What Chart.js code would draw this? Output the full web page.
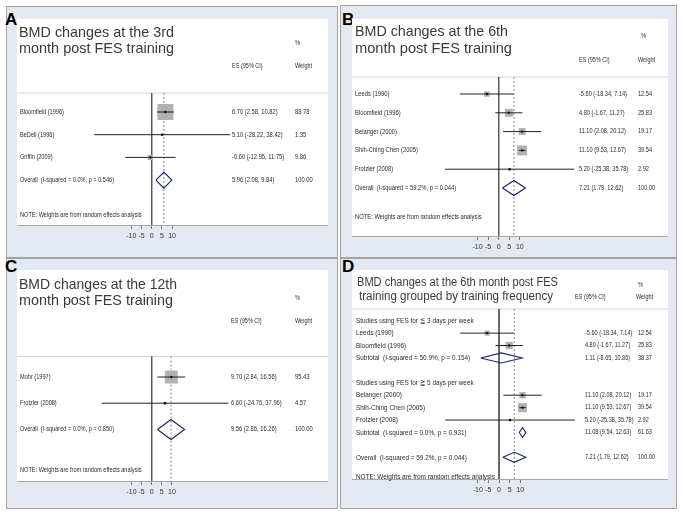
<!DOCTYPE html>
<html>
<head>
<meta charset="utf-8">
<script src="https://cdn.jsdelivr.net/npm/chart.js@4.4.0/dist/chart.umd.min.js"></script>
<style>
  body { margin: 0; background: #fff; width: 683px; height: 516px; position: relative; overflow: hidden; }
  .panel { position: absolute; background: #e4e8f1; border: 1px solid #a3a3a3; box-sizing: border-box; }
  .letter { position: absolute; font: bold 17px 'Liberation Sans', Arial, sans-serif; line-height: 17px; color: #000; }
  canvas { position: absolute; }
</style>
</head>
<body>
<div class="panel" style="left:6px;top:6px;width:332px;height:252px"></div>
<div class="panel" style="left:340px;top:5px;width:337px;height:253px"></div>
<div class="panel" style="left:6px;top:258px;width:332px;height:251px"></div>
<div class="panel" style="left:340px;top:258px;width:337px;height:251px"></div>
<div class="letter" style="left:5px;top:11px">A</div>
<div class="letter" style="left:342px;top:11px">B</div>
<div class="letter" style="left:5px;top:258px">C</div>
<div class="letter" style="left:342px;top:258px">D</div>
<script>
const FONT = "'Liberation Sans', Arial, sans-serif";
const tickVals = [-10, -5, 0, 5, 10];
const noteText = 'NOTE: Weights are from random effects analysis';

// A: 3-й месяц
const studyA = ['Bloomfield (1996)', 'BeDell (1996)', 'Griffin (2009)'];
const esA = [6.70, 5.10, -0.60];
const loA = [2.58, -28.22, -12.95];
const hiA = [10.82, 38.42, 11.75];
const wA = [88.78, 1.35, 9.86];
const overallA = [5.96, 2.08, 9.84, 100.00];
const hetA = 'I-squared = 0.0%, p = 0.546';

// B: 6-й месяц
const studyB = ['Leeds (1990)', 'Bloomfield (1996)', 'Belanger (2000)', 'Shih-Ching Chen (2005)', 'Frotzler (2008)'];
const esB = [-5.60, 4.80, 11.10, 11.10, 5.20];
const loB = [-18.34, -1.67, 2.08, 9.53, -25.38];
const hiB = [7.14, 11.27, 20.12, 12.67, 35.78];
const wB = [12.54, 25.83, 19.17, 39.54, 2.92];
const overallB = [7.21, 1.79, 12.62, 100.00];
const hetB = 'I-squared = 59.2%, p = 0.044';

// C: 12-й месяц
const studyC = ['Mohr (1997)', 'Frotzler (2008)'];
const esC = [9.70, 6.60];
const loC = [2.84, -24.76];
const hiC = [16.56, 37.96];
const wC = [95.43, 4.57];
const overallC = [9.56, 2.86, 16.26, 100.00];
const hetC = 'I-squared = 0.0%, p = 0.850';

// D: 6-й месяц по частоте тренировок
const groupLabelD = ['Studies using FES for \u2266 3 days per week', 'Studies using FES for \u2267 5 days per week'];
const studyD = ['Leeds (1990)', 'Bloomfield (1996)', 'Belanger (2000)', 'Shih-Ching Chen (2005)', 'Frotzler (2008)'];
const groupD = [0, 0, 1, 1, 1];
const esD = [-5.60, 4.80, 11.10, 11.10, 5.20];
const loD = [-18.34, -1.67, 2.08, 9.53, -25.38];
const hiD = [7.14, 11.27, 20.12, 12.67, 35.78];
const wD = [12.54, 25.83, 19.17, 39.54, 2.92];
const subD = [[1.11, -8.65, 10.86, 38.37], [11.08, 9.54, 12.63, 61.63]];
const subHetD = ['I-squared = 50.9%, p = 0.154', 'I-squared = 0.0%, p = 0.931'];
const overallD = [7.21, 1.79, 12.62, 100.00];
const hetD = 'I-squared = 59.2%, p = 0.044';

// Строки графика: исследования, подытоги, итог, примечание
function buildRows(p) {
    const rows = [];
    let r = 1;
    const study = i => ({ kind: 'study', label: p.study[i], es: p.es[i], lo: p.lo[i], hi: p.hi[i], w: p.w[i] });
    if (p.groups) {
        p.groups.forEach((g, gi) => {
            rows.push({ kind: 'head', label: g, r: r++ });
            p.study.forEach((s, i) => {
                if (p.group[i] === gi) rows.push({ ...study(i), r: r++ });
            });
            const sb = p.sub[gi];
            rows.push({ kind: 'diamond', label: 'Subtotal  (' + p.subHet[gi] + ')', es: sb[0], lo: sb[1], hi: sb[2], w: sb[3], r: r++ });
            r++;
        });
    } else {
        p.study.forEach((s, i) => rows.push({ ...study(i), r: r++ }));
    }
    const ov = p.overall;
    rows.push({ kind: 'diamond', label: 'Overall  (' + p.het + ')', es: ov[0], lo: ov[1], hi: ov[2], w: ov[3], r: r });
    rows.push({ kind: 'note', label: noteText, r: r + 1.55 });
    return rows;
}

function txt(ctx, s, x, y, size, opt) {
    opt = opt || {};
    ctx.save();
    ctx.font = size + 'px ' + FONT;
    ctx.fillStyle = opt.color || '#2b2b2b';
    ctx.textBaseline = opt.baseline || 'middle';
    ctx.textAlign = opt.align || 'left';
    let sx = opt.sx || 0.85;
    if (opt.width) sx = opt.width / ctx.measureText(s).width;
    ctx.translate(x, y);
    ctx.scale(sx, 1);
    ctx.fillText(s, 0, 0);
    ctx.restore();
}

function makePanel(p, L) {
    const rows = buildRows(p);
    const W = L.white.r - L.white.l;
    const H = L.white.b - L.white.t;
    const cv = document.createElement('canvas');
    cv.width = W;
    cv.height = H + L.axisH;
    cv.style.left = L.white.l + 'px';
    cv.style.top = L.white.t + 'px';
    cv.style.width = W + 'px';
    cv.style.height = (H + L.axisH) + 'px';
    document.body.appendChild(cv);

    const xMin = (L.white.l - L.zero) / L.ppu;
    const xMax = (L.white.r - L.zero) / L.ppu;
    const yMin = 1 - (L.row1 - L.white.t) / L.rowH;
    const yMax = 1 + (L.white.b - L.row1) / L.rowH;
    const topRow = 1 + (L.hdrY - L.row1) / L.rowH;
    const ov = p.overall;

    const line = (pts, color, width, order, dash) => ({
        data: pts, showLine: true, borderColor: color, borderWidth: width,
        borderDash: dash || [], pointRadius: 0, order: order
    });

    const datasets = [];
    datasets.push(line([{ x: xMin, y: topRow }, { x: xMax, y: topRow }], '#d4d4d4', 1, 12));
    datasets.push(line([{ x: 0, y: topRow }, { x: 0, y: yMax }], '#555', 1, 11));
    datasets.push(line([{ x: ov[0], y: topRow }, { x: ov[0], y: yMax }], '#8a8a8a', 1, 11, [2, 2]));

    const studies = rows.filter(r => r.kind === 'study');
    datasets.push({
        data: studies.map(s => ({ x: s.es, y: s.r })),
        pointStyle: 'rect',
        pointRadius: studies.map(s => L.boxK * Math.sqrt(s.w) / Math.SQRT2),
        pointBackgroundColor: '#b2b2b2', pointBorderWidth: 0, order: 10
    });
    studies.forEach(s => datasets.push(line([{ x: s.lo, y: s.r }, { x: s.hi, y: s.r }], '#222', 1, 9)));
    datasets.push({
        data: studies.map(s => ({ x: s.es, y: s.r })),
        pointStyle: 'circle', pointRadius: 1.2,
        pointBackgroundColor: '#111', pointBorderWidth: 0, order: 8
    });

    const dh = L.diaPx / L.rowH;
    rows.filter(r => r.kind === 'diamond').forEach(d => {
        datasets.push(line([
            { x: d.lo, y: d.r }, { x: d.es, y: d.r - dh }, { x: d.hi, y: d.r },
            { x: d.es, y: d.r + dh }, { x: d.lo, y: d.r }
        ], '#1d2870', 1.2, 7));
    });

    const textPlugin = {
        id: 'forestText',
        beforeDraw(chart) {
            const a = chart.chartArea;
            chart.ctx.save();
            chart.ctx.fillStyle = '#fff';
            chart.ctx.fillRect(a.left, a.top, a.right - a.left, a.bottom - a.top);
            chart.ctx.restore();
        },
        afterDatasetsDraw(chart) {
            const ctx = chart.ctx;
            const y = chart.scales.y;
            const ox = L.white.l, oy = L.white.t;
            // заголовок
            L.title.lines.forEach((t, i) => {
                txt(ctx, t, L.title.x[i] - ox, L.title.y[i] - oy, L.title.size,
                    { color: '#3a3a3a', baseline: 'alphabetic', width: L.title.w[i] });
            });
            txt(ctx, '%', L.pct[0] - ox, L.pct[1] - oy, L.hdrSize);
            txt(ctx, 'ES (95% CI)', L.esHdr[0] - ox, L.esHdr[1] - oy, L.hdrSize);
            txt(ctx, 'Weight', L.wHdr[0] - ox, L.wHdr[1] - oy, L.hdrSize);
            rows.forEach(r => {
                const py = y.getPixelForValue(r.r);
                txt(ctx, r.label, L.labelX - ox, py, L.font, { sx: 0.8 });
                if (r.kind === 'study' || r.kind === 'diamond') {
                    const es = r.es.toFixed(2) + ' (' + r.lo.toFixed(2) + ', ' + r.hi.toFixed(2) + ')';
                    txt(ctx, es, L.esX - ox, py, L.numFont);
                    txt(ctx, r.w.toFixed(2), L.wX - ox, py, L.numFont);
                }
            });
        }
    };

    return new Chart(cv, {
        type: 'scatter',
        data: { datasets: datasets },
        options: {
            responsive: false,
            animation: false,
            events: [],
            layout: { padding: 0, autoPadding: false },
            plugins: { legend: { display: false }, tooltip: { enabled: false } },
            scales: {
                x: {
                    type: 'linear', min: xMin, max: xMax,
                    afterBuildTicks: s => { s.ticks = tickVals.map(v => ({ value: v })); },
                    afterFit: s => { s.height = L.axisH; },
                    ticks: { font: { size: 7, family: FONT }, color: '#333', padding: L.tickPad, maxRotation: 0, autoSkip: false },
                    grid: { drawOnChartArea: false, drawTicks: true, tickLength: 4, color: '#777' },
                    border: { display: true, color: '#a8a8a8' }
                },
                y: { type: 'linear', reverse: true, min: yMin, max: yMax, display: false }
            }
        },
        plugins: [textPlugin]
    });
}

makePanel(
    { study: studyA, es: esA, lo: loA, hi: hiA, w: wA, overall: overallA, het: hetA },
    {
        white: { l: 17, t: 19, r: 328, b: 225 }, zero: 151.7, ppu: 2.04,
        row1: 112, rowH: 22.7, hdrY: 93, axisH: 20, tickPad: 3,
        font: 7, numFont: 6.8, hdrSize: 6.5, labelX: 20, esX: 232, wX: 295,
        pct: [295, 43], esHdr: [232, 66], wHdr: [295, 66],
        title: { lines: ['BMD changes at the 3rd', 'month post FES training'], x: [19, 19], y: [37, 53], size: 15, w: [155, 155] },
        boxK: 1.70, diaPx: 8
    }
);

makePanel(
    { study: studyB, es: esB, lo: loB, hi: hiB, w: wB, overall: overallB, het: hetB },
    {
        white: { l: 352, t: 19, r: 668, b: 236 }, zero: 498.7, ppu: 2.11,
        row1: 94, rowH: 18.8, hdrY: 77, axisH: 20, tickPad: 3,
        font: 7.3, numFont: 6.6, hdrSize: 6.5, labelX: 355, esX: 579, wX: 638,
        pct: [641, 36], esHdr: [579, 60], wHdr: [638, 60],
        title: { lines: ['BMD changes at the 6th', 'month post FES training'], x: [355, 355], y: [36, 53], size: 15, w: [153, 157] },
        boxK: 1.59, diaPx: 7.5
    }
);

makePanel(
    { study: studyC, es: esC, lo: loC, hi: hiC, w: wC, overall: overallC, het: hetC },
    {
        white: { l: 17, t: 270, r: 328, b: 481 }, zero: 151.7, ppu: 2.02,
        row1: 377, rowH: 26.2, hdrY: 356.5, axisH: 20, tickPad: 3,
        font: 7, numFont: 6.8, hdrSize: 6.5, labelX: 20, esX: 231, wX: 295,
        pct: [295, 298], esHdr: [231, 321], wHdr: [295, 321],
        title: { lines: ['BMD changes at the 12th', 'month post FES training'], x: [19, 19], y: [289, 305], size: 15, w: [158, 154] },
        boxK: 1.33, diaPx: 10
    }
);

makePanel(
    { groups: groupLabelD, group: groupD, study: studyD, es: esD, lo: loD, hi: hiD, w: wD,
      sub: subD, subHet: subHetD, overall: overallD, het: hetD },
    {
        white: { l: 352, t: 270, r: 668, b: 479 }, zero: 499, ppu: 2.12,
        row1: 320.7, rowH: 12.42, hdrY: 309, axisH: 20, tickPad: 3,
        font: 8, numFont: 6.5, hdrSize: 6.5, labelX: 356, esX: 585, wX: 638,
        pct: [638, 285], esHdr: [575, 297], wHdr: [636, 297],
        title: { lines: ['BMD changes at the 6th month post FES', 'training grouped by training frequency'], x: [357, 359], y: [286, 300], size: 12.5, w: [201, 194] },
        boxK: 1.45, diaPx: 5
    }
);
</script>
</body>
</html>
